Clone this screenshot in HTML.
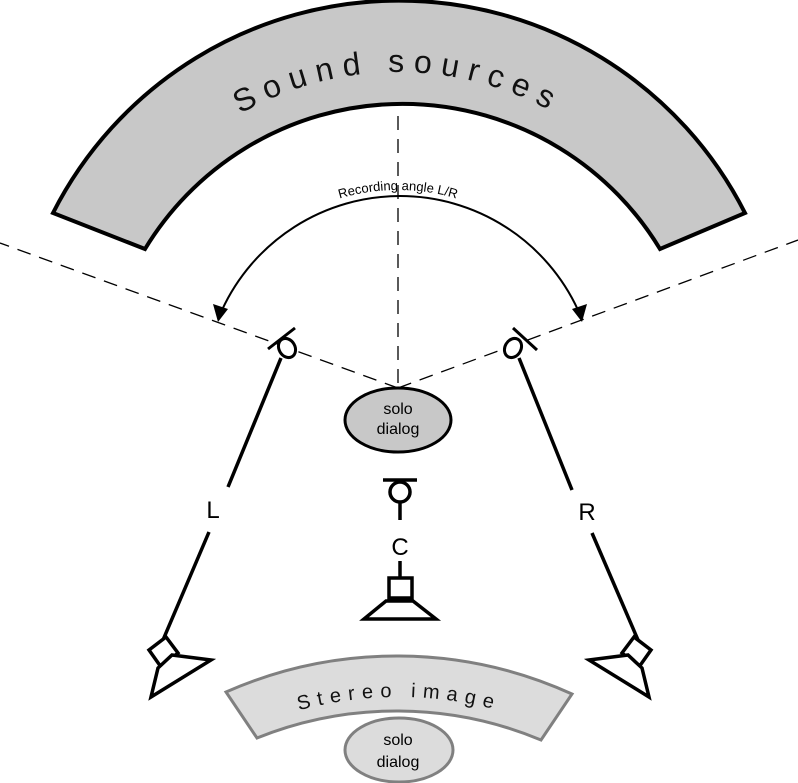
<!DOCTYPE html>
<html><head><style>html,body{margin:0;padding:0;background:#fff}svg{display:block}</style></head><body>
<svg width="798" height="783" viewBox="0 0 798 783" xmlns="http://www.w3.org/2000/svg" font-family="'Liberation Sans', sans-serif">
<defs>
<path id="ssPath" d="M 81 389 A 317 317 0 0 1 715 389"/>
<path id="raPath" d="M 193 395 A 205 205 0 0 1 603 395"/>
<path id="siPath" d="M 18 1078 A 381 381 0 0 1 780 1078"/>
</defs>
<path d="M 53 213 A 388 388 0 0 1 745 213 L 660 249 A 301 301 0 0 0 145 249 Z" fill="#c8c8c8" stroke="#000" stroke-width="4" stroke-linejoin="miter"/>
<text font-size="32" letter-spacing="9" fill="#111"><textPath href="#ssPath" startOffset="50%" text-anchor="middle">Sound sources</textPath></text>
<g stroke="#000" stroke-width="1.3" stroke-dasharray="14,9" fill="none">
<line x1="398" y1="116" x2="398" y2="388"/>
<line x1="398" y1="388" x2="0" y2="243"/>
<line x1="398" y1="388" x2="798" y2="240"/>
</g>
<path d="M 222 310 A 196 196 0 0 1 578 310" fill="none" stroke="#000" stroke-width="2"/>
<polygon points="218,322 213,304 228,309" fill="#000"/>
<polygon points="582,322 572,309 587,304" fill="#000"/>
<text font-size="13" fill="#000"><textPath href="#raPath" startOffset="50%" text-anchor="middle">Recording angle L/R</textPath></text>
<g stroke="#000" stroke-width="3" fill="#fff">
<line x1="268" y1="349" x2="295" y2="328"/>
<ellipse cx="287" cy="348" rx="8" ry="10" transform="rotate(-30 287 348)"/>
<line x1="513" y1="328" x2="537" y2="350"/>
<ellipse cx="513" cy="348" rx="8" ry="10" transform="rotate(30 513 348)"/>
</g>
<g stroke="#000" stroke-width="3.5" fill="none">
<line x1="281" y1="358" x2="228" y2="487"/>
<line x1="209" y1="532" x2="163" y2="640"/>
<line x1="519" y1="358" x2="572" y2="490"/>
<line x1="592" y1="533" x2="638" y2="640"/>
</g>
<text x="213" y="518" font-size="24" text-anchor="middle">L</text>
<text x="587" y="520" font-size="24" text-anchor="middle">R</text>
<g stroke="#000" stroke-width="3.5" fill="#fff" stroke-linejoin="miter">
<polygon points="149,650 166,637 178,653 161,667"/>
<polygon points="172,655 211,660 151,697 158,668"/>
<polygon points="651,650 634,637 622,653 639,667"/>
<polygon points="628,655 589,660 649,697 642,668"/>
</g>
<ellipse cx="398" cy="420" rx="53" ry="32" fill="#c8c8c8" stroke="#000" stroke-width="3"/>
<text x="398" y="414" font-size="16" text-anchor="middle">solo</text>
<text x="398" y="434" font-size="16" text-anchor="middle">dialog</text>
<g stroke="#000" stroke-width="3.5" fill="#fff">
<line x1="383" y1="480" x2="417" y2="480"/>
<circle cx="400" cy="492" r="10"/>
<line x1="400" y1="503" x2="400" y2="520"/>
<line x1="400" y1="561" x2="400" y2="578"/>
<rect x="389" y="578" width="23" height="20"/>
<polygon points="386,601 413,601 436,619 364,619"/>
</g>
<text x="400" y="555" font-size="24" text-anchor="middle">C</text>
<path d="M 226 692 A 423 423 0 0 1 572 694 L 541 740 A 374 374 0 0 0 257 738 Z" fill="#dcdcdc" stroke="#808080" stroke-width="3"/>
<text font-size="20" letter-spacing="7" fill="#111"><textPath href="#siPath" startOffset="50%" text-anchor="middle">Stereo image</textPath></text>
<ellipse cx="399" cy="750" rx="54" ry="32" fill="#dcdcdc" stroke="#808080" stroke-width="3"/>
<text x="398" y="745" font-size="16" text-anchor="middle">solo</text>
<text x="398" y="767" font-size="16" text-anchor="middle">dialog</text>
</svg>
</body></html>
